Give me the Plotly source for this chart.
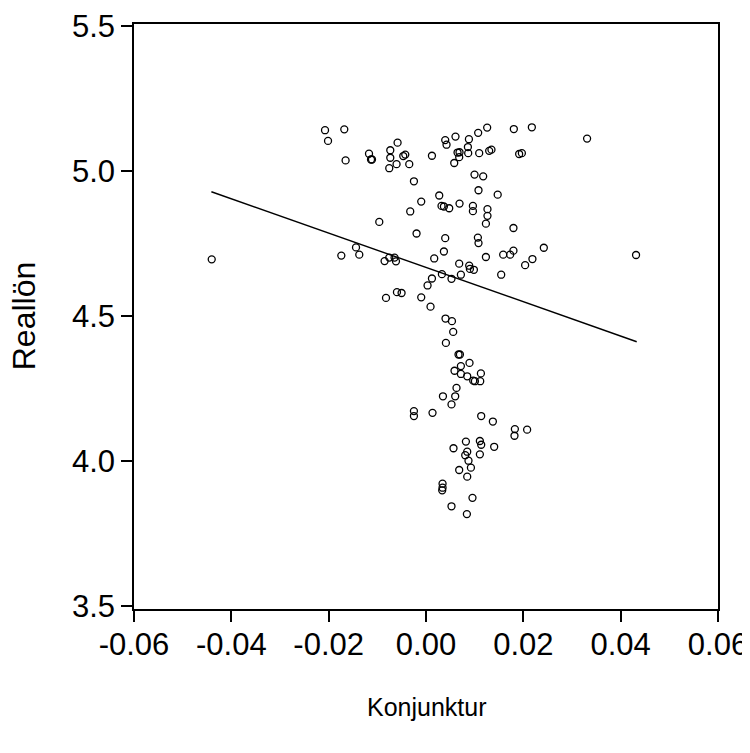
import plotly.graph_objects as go

# Konjunktur (x) and Reallön (y)
konjunktur = [
    -0.02075, -0.02013, -0.01679, -0.01652, -0.01171, -0.01130, -0.01110, -0.00734, -0.00584, -0.00734,
    -0.00605, -0.00755, -0.00467, -0.00426, -0.00344, -0.00248, 0.00122, 0.00395, 0.00422, 0.00606,
    0.00648, 0.00689, 0.00682, 0.00580, 0.00882, 0.00861, 0.00867, 0.01072, 0.01257, 0.01093,
    0.01298, 0.01345, 0.01805, 0.01914, 0.01970, 0.02175, 0.03310, 0.00997, 0.01175, 0.01079,
    0.01473, 0.00272, -0.00098, 0.00319, 0.00368, 0.00477, 0.00689, 0.00964, 0.00964, 0.01263,
    0.01263, -0.00324, -0.00960, 0.01231, 0.01797, -0.00194, 0.00395, 0.01066, 0.01079, 0.00368,
    -0.01740, -0.01438, -0.01371, -0.00755, -0.00646, -0.00851, -0.00617, 0.00169, 0.01231, 0.01586,
    0.01729, 0.01797, 0.00682, 0.00888, 0.00902, 0.00984, 0.00327, 0.00524, 0.00717, 0.01545,
    0.00122, 0.00032, -0.00597, -0.00502, -0.00822, -0.00098, 0.00093, 0.00401, 0.00533, 0.02421,
    0.02187, 0.02037, 0.04316, -0.04403, 0.00559, 0.00409, 0.00668, 0.00697, 0.00894, 0.00717,
    0.00586, 0.00717, 0.00847, 0.01128, 0.00970, 0.01005, 0.01114, 0.00627, 0.00600, 0.00348,
    0.00524, -0.00248, -0.00248, 0.00134, 0.01134, 0.01374, 0.01826, 0.01818, 0.02078, 0.00820,
    0.01107, 0.01134, 0.01401, 0.00565, 0.00847, 0.00806, 0.01107, 0.00873, 0.00923, 0.00682,
    0.00847, 0.00340, 0.00340, 0.00333, 0.00955, 0.00524, 0.00840,
]
reallon = [
    5.140, 5.103, 5.143, 5.036, 5.059, 5.039, 5.039, 5.071, 5.097, 5.045,
    5.023, 5.009, 5.051, 5.056, 5.023, 4.964, 5.052, 5.106, 5.090, 5.118,
    5.063, 5.064, 5.047, 5.027, 5.109, 5.082, 5.061, 5.131, 5.149, 5.061,
    5.069, 5.073, 5.144, 5.058, 5.061, 5.150, 5.111, 4.987, 4.981, 4.933,
    4.918, 4.915, 4.894, 4.879, 4.877, 4.871, 4.887, 4.879, 4.861, 4.868,
    4.845, 4.860, 4.824, 4.818, 4.803, 4.784, 4.768, 4.770, 4.751, 4.722,
    4.708, 4.736, 4.711, 4.701, 4.701, 4.689, 4.688, 4.698, 4.703, 4.711,
    4.711, 4.725, 4.680, 4.673, 4.662, 4.659, 4.644, 4.628, 4.642, 4.642,
    4.629, 4.605, 4.582, 4.579, 4.562, 4.564, 4.532, 4.491, 4.482, 4.735,
    4.696, 4.675, 4.710, 4.695, 4.445, 4.407, 4.367, 4.367, 4.338, 4.327,
    4.311, 4.300, 4.292, 4.302, 4.277, 4.275, 4.275, 4.252, 4.223, 4.223,
    4.195, 4.172, 4.155, 4.166, 4.155, 4.136, 4.110, 4.087, 4.108, 4.067,
    4.069, 4.056, 4.049, 4.044, 4.032, 4.020, 4.023, 4.001, 3.977, 3.969,
    3.946, 3.922, 3.908, 3.899, 3.873, 3.844, 3.817,
]

# Regression line endpoints
fit_x = [-0.0441, 0.0433]
fit_y = [4.928, 4.411]

x_ticks = [-0.06, -0.04, -0.02, 0.00, 0.02, 0.04, 0.06]
x_tick_labels = ["-0.06", "-0.04", "-0.02", "0.00", "0.02", "0.04", "0.06"]
y_ticks = [3.5, 4.0, 4.5, 5.0, 5.5]
y_tick_labels = ["3.5", "4.0", "4.5", "5.0", "5.5"]

font_family = "Liberation Sans, Arial, sans-serif"

fig = go.Figure()
fig.add_trace(go.Scatter(
    x=konjunktur, y=reallon, mode="markers",
    marker=dict(symbol="circle-open", size=7, color="black", line=dict(width=1.3, color="black")),
    showlegend=False, hoverinfo="x+y",
))
fig.add_trace(go.Scatter(
    x=fit_x, y=fit_y, mode="lines",
    line=dict(color="black", width=1.4),
    showlegend=False, hoverinfo="skip",
))

fig.update_layout(
    width=742, height=745,
    margin=dict(l=126, r=32, t=16, b=144),
    paper_bgcolor="white", plot_bgcolor="white",
    font=dict(family=font_family, color="black"),
    xaxis=dict(
        range=[-0.06, 0.06], tickvals=x_ticks, ticktext=x_tick_labels,
        showgrid=False, zeroline=False, showline=True, linecolor="black", linewidth=1.5,
        mirror=True, ticks="outside", ticklen=11, tickwidth=1.5, tickcolor="black",
        tickfont=dict(size=31, family=font_family, color="black"),
        ticklabelstandoff=-4,
        automargin=False,
    ),
    yaxis=dict(
        range=[3.49, 5.506], tickvals=y_ticks, ticktext=y_tick_labels,
        showgrid=False, zeroline=False, showline=True, linecolor="black", linewidth=1.5,
        mirror=True, ticks="outside", ticklen=11, tickwidth=1.5, tickcolor="black",
        tickfont=dict(size=31, family=font_family, color="black"),
        automargin=False,
    ),
    annotations=[
        dict(text="Konjunktur", xref="paper", yref="paper", x=0.5015, y=-0.1676,
             xanchor="center", yanchor="middle", showarrow=False,
             font=dict(size=25, family=font_family, color="black")),
        dict(text="Reallön", xref="paper", yref="paper", x=-0.1878, y=0.501,
             xanchor="center", yanchor="middle", showarrow=False, textangle=-90,
             font=dict(size=32, family=font_family, color="black")),
    ],
)

fig.write_html("out.html")
